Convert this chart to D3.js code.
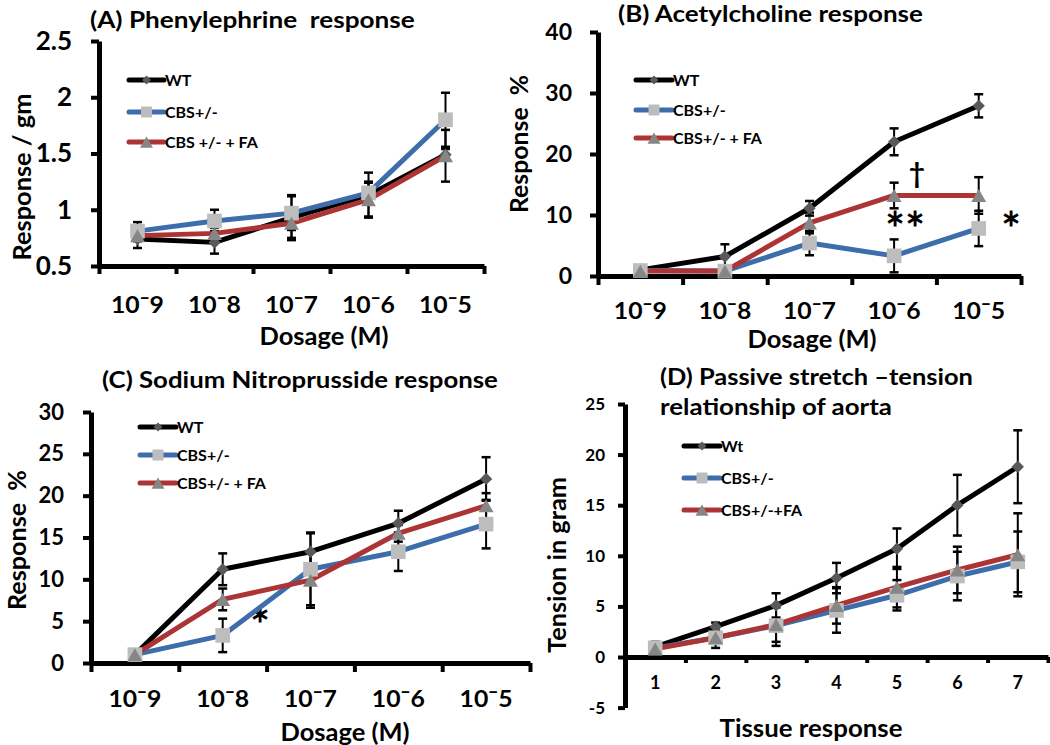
<!DOCTYPE html>
<html><head><meta charset="utf-8">
<script src="https://cdn.jsdelivr.net/npm/d3@7"></script>
<style>
body{margin:0;background:#fff}
svg{display:block}
text{font-family:Lato,"Open Sans",sans-serif;font-weight:700;fill:#000;white-space:pre}
</style>
</head><body>
<svg id="chart" width="1050" height="745"></svg>
<script>
// ---------------- DATA ----------------
const doseLabels = ["10ˉ9", "10ˉ8", "10ˉ7", "10ˉ6", "10ˉ5"];
const tissueLabels = ["1", "2", "3", "4", "5", "6", "7"];

const legendA = ["WT", "CBS+/-", "CBS +/- + FA"];
const legendB = ["WT", "CBS+/-", "CBS+/- + FA"];
const legendC = ["WT", "CBS+/-", "CBS+/- + FA"];
const legendD = ["Wt", "CBS+/-", "CBS+/-+FA"];

// (A) Phenylephrine response (Response / gm)
const phenylWT = [0.74, 0.71, 0.93, 1.13, 1.49];
const phenylWTErr = [0.08, 0.10, 0.20, 0.20, 0.05];
const phenylCBS = [0.81, 0.90, 0.97, 1.15, 1.80];
const phenylCBSErr = [0.08, 0.10, 0.15, 0.10, 0.24];
const phenylFA = [0.77, 0.79, 0.88, 1.09, 1.48];
const phenylFAErr = [0.05, 0.05, 0.13, 0.15, 0.23];
const phenylTicks = [0.5, 1, 1.5, 2, 2.5];

// (B) Acetylcholine response (Response %)
const acetylWT = [1.0, 3.2, 11.1, 22.0, 27.9];
const acetylWTErr = [0.3, 2.0, 1.2, 2.2, 1.9];
const acetylCBS = [0.9, 0.8, 5.4, 3.3, 7.8];
const acetylCBSErr = [0.3, 0.3, 2.0, 2.7, 2.9];
const acetylFA = [0.8, 0.8, 8.7, 13.2, 13.2];
const acetylFAErr = [0.3, 0.3, 1.7, 2.1, 3.0];
const acetylTicks = [0, 10, 20, 30, 40];

// (C) Sodium Nitroprusside response (Response %)
const nitroWT = [1.0, 11.2, 13.3, 16.7, 22.0];
const nitroWTErr = [0.3, 1.9, 2.3, 1.5, 2.6];
const nitroCBS = [1.0, 3.3, 11.2, 13.3, 16.6];
const nitroCBSErr = [0.3, 2.0, 4.3, 2.3, 2.9];
const nitroFA = [1.0, 7.6, 9.9, 15.5, 18.8];
const nitroFAErr = [0.3, 1.3, 3.3, 1.0, 1.5];
const nitroTicks = [0, 5, 10, 15, 20, 25, 30];

// (D) Passive stretch-tension (Tension in gram)
const tensionWT = [1.0, 3.0, 5.1, 7.8, 10.7, 15.0, 18.8];
const tensionWTErr = [0.5, 0.4, 1.2, 1.5, 2.0, 3.0, 3.6];
const tensionCBS = [0.9, 1.9, 3.1, 4.6, 6.1, 8.0, 9.4];
const tensionCBSErr = [0.3, 1.0, 2.0, 2.2, 1.5, 2.4, 3.0];
const tensionFA = [0.8, 1.9, 3.2, 5.1, 6.9, 8.6, 10.1];
const tensionFAErr = [0.3, 0.6, 1.7, 1.8, 2.0, 2.3, 4.1];
const tensionTicks = [-5, 0, 5, 10, 15, 20, 25];

// ---------------- STYLE ----------------
const styles = [
  {line: "#000000", fill: "#595959", kind: "diamond"},
  {line: "#3e6dab", fill: "#bdbdbd", kind: "square"},
  {line: "#ac3434", fill: "#868686", kind: "triangle"}
];

const svg = d3.select("#chart");

function markerPath(kind, big) {
  if (kind === "diamond") return d3.symbol(d3.symbolSquare, big ? 76 : 40)();
  if (kind === "square") return d3.symbol(d3.symbolSquare, big ? 215 : 121)();
  return d3.symbol(d3.symbolTriangle, big ? 97 : 73)();
}
function markerTransform(kind, x, y, big) {
  if (kind === "diamond") return `translate(${x},${y}) rotate(45)`;
  if (kind === "triangle") return `translate(${x},${y + (big ? 2.2 : 1.9)})`;
  return `translate(${x},${y})`;
}

// text with cap-height centred on cy
function capText(g, x, cy, str, fs, anchor) {
  return g.append("text").attr("x", x).attr("y", cy + 0.36 * fs)
    .attr("font-size", fs).attr("text-anchor", anchor || "start").text(str);
}
// text fitted to a target width: half by size, half by horizontal stretch
function fitText(g, x, cy, str, fsH, targetW, anchor, rot) {
  const t = g.append("text").attr("font-size", fsH).attr("text-anchor", anchor || "start").text(str);
  const w = t.node().getComputedTextLength() || targetW;
  const r = Math.sqrt(targetW / w);
  const fs = fsH * r;
  t.attr("font-size", fs)
   .attr("transform", `translate(${x},${cy}) ${rot ? "rotate(-90)" : ""} scale(${r},1) translate(0,${0.36 * fs})`);
  return t;
}

function panel(cfg) {
  const g = svg.append("g");
  const n = cfg.labels.length;
  const band = d3.scaleBand().domain(cfg.labels).range([cfg.x0, cfg.x1]).padding(0);
  const edge = d3.scaleLinear().domain([0, n]).range([cfg.x0, cfg.x1]);
  const y = d3.scaleLinear().domain(cfg.yDomain).range([cfg.yBottom, cfg.yTop]);
  const xc = i => band(cfg.labels[i]) + band.bandwidth() / 2;
  const axisY = y(cfg.xAxisAt);

  const addNotes = under => (cfg.notes || []).filter(a => !!a.under === under).forEach(a => {
    g.append("text").attr("x", xc(a.i) + a.dx * band.bandwidth()).attr("y", y(a.v))
      .attr("font-family", "DejaVu Sans").attr("font-weight", 400)
      .attr("font-size", a.fs).attr("text-anchor", "middle").attr("dy", a.dy).text(a.t);
  });

  // y axis
  const ya = g.append("g").attr("transform", `translate(${cfg.x0},0)`)
    .call(d3.axisLeft(y).tickValues(cfg.yTicks).tickSize(cfg.yTickLen).tickSizeOuter(0)
      .tickPadding(cfg.yPad).tickFormat(d => String(d)));
  ya.select(".domain").attr("stroke", "#000").attr("stroke-width", 5);
  ya.selectAll(".tick line").attr("stroke", "#000").attr("stroke-width", 4);
  ya.selectAll(".tick text").attr("font-size", cfg.yFs).attr("font-family", null).attr("fill", "#000");

  // x axis (ticks at category boundaries)
  const xa = g.append("g").attr("transform", `translate(0,${axisY})`)
    .call(d3.axisBottom(edge).tickValues(d3.range(n + 1)).tickSize(cfg.xTickLen).tickSizeOuter(0).tickFormat(""));
  xa.select(".domain").attr("stroke", "#000").attr("stroke-width", 5);
  xa.selectAll(".tick line").attr("stroke", "#000").attr("stroke-width", 4);

  // category labels
  cfg.labels.forEach((lab, i) => {
    if (cfg.xLabW) fitText(g, xc(i), cfg.xLabY, lab, cfg.xFs, cfg.xLabW, "middle");
    else capText(g, xc(i), cfg.xLabY, lab, cfg.xFs, "middle");
  });

  addNotes(true);

  // series
  const line = d3.line().x((d, i) => xc(i)).y(d => y(d));
  cfg.series.forEach((s, k) => {
    const st = styles[k];
    g.append("path").datum(s.vals).attr("d", line).attr("fill", "none")
      .attr("stroke", st.line).attr("stroke-width", 5).attr("stroke-linejoin", "round");
    const eb = g.append("g").attr("stroke", "#000").attr("stroke-width", 2);
    s.vals.forEach((v, i) => {
      const e = s.errs[i], x = xc(i);
      eb.append("line").attr("x1", x).attr("x2", x).attr("y1", y(v - e)).attr("y2", y(v + e));
      [v - e, v + e].forEach(t => eb.append("line").attr("x1", x - 4.5).attr("x2", x + 4.5)
        .attr("y1", y(t)).attr("y2", y(t)).attr("stroke-width", 2.5));
    });
  });
  cfg.series.forEach((s, k) => {
    const st = styles[k];
    s.vals.forEach((v, i) => {
      g.append("path").attr("d", markerPath(st.kind, true))
        .attr("transform", markerTransform(st.kind, xc(i), y(v), true))
        .attr("fill", st.fill);
    });
  });

  // legend
  cfg.legend.forEach((name, k) => {
    const st = styles[k];
    const ly = cfg.legY[k];
    g.append("line").attr("x1", cfg.legX0).attr("x2", cfg.legX1).attr("y1", ly).attr("y2", ly)
      .attr("stroke", st.line).attr("stroke-width", 5).attr("stroke-linecap", "round");
    g.append("path").attr("d", markerPath(st.kind, false))
      .attr("transform", markerTransform(st.kind, (cfg.legX0 + cfg.legX1) / 2, ly, false))
      .attr("fill", st.fill);
    capText(g, cfg.legX1 + 1, ly, name, cfg.legFs);
  });

  // titles
  cfg.title.forEach((t, i) => fitText(g, cfg.titleX, cfg.titleY[i], t, 21, cfg.titleW[i]));
  fitText(g, cfg.xTitleX, cfg.xTitleY, cfg.xTitle, 24, cfg.xTitleW, "middle");
  fitText(g, cfg.yTitleX, cfg.yTitleY, cfg.yTitle, 24, cfg.yTitleW, "middle", true);

  addNotes(false);
}

panel({
  labels: doseLabels, x0: 99, x1: 484, yDomain: [0.5, 2.5], yBottom: 266, yTop: 41, xAxisAt: 0.5,
  yTicks: phenylTicks, yTickLen: 8, yPad: 19, yFs: 26, xTickLen: 8, xLabY: 305, xFs: 21, xLabW: 53,
  series: [{vals: phenylWT, errs: phenylWTErr}, {vals: phenylCBS, errs: phenylCBSErr}, {vals: phenylFA, errs: phenylFAErr}],
  legend: legendA, legX0: 129, legX1: 164, legY: [80, 112, 142], legFs: 16,
  title: ["(A) Phenylephrine  response"], titleW: [325], titleX: 90, titleY: [20],
  xTitle: "Dosage (M)", xTitleW: 129, xTitleX: 324, xTitleY: 336,
  yTitle: "Response / gm", yTitleW: 167, yTitleX: 22, yTitleY: 177
});

panel({
  labels: doseLabels, x0: 598, x1: 1021, yDomain: [0, 40], yBottom: 276, yTop: 32, xAxisAt: 0,
  yTicks: acetylTicks, yTickLen: 8, yPad: 18, yFs: 23, xTickLen: 9, xLabY: 311, xFs: 21, xLabW: 53,
  series: [{vals: acetylWT, errs: acetylWTErr}, {vals: acetylCBS, errs: acetylCBSErr}, {vals: acetylFA, errs: acetylFAErr}],
  legend: legendB, legX0: 636, legX1: 672, legY: [80, 110, 138], legFs: 16,
  title: ["(B) Acetylcholine response"], titleW: [305], titleX: 618, titleY: [14],
  xTitle: "Dosage (M)", xTitleW: 129, xTitleX: 812, xTitleY: 339,
  yTitle: "Response  %", yTitleW: 138, yTitleX: 519, yTitleY: 144,
  notes: [
    {t: "†", i: 3, dx: 0.27, v: 16.9, fs: 28, dy: "0.35em"},
    {t: "∗∗", i: 3, dx: 0.13, v: 9.8, fs: 24, dy: "0.4em"},
    {t: "∗", i: 4, dx: 0.38, v: 9.8, fs: 24, dy: "0.4em"}
  ]
});

panel({
  labels: doseLabels, x0: 91, x1: 530, yDomain: [0, 30], yBottom: 663, yTop: 412, xAxisAt: 0,
  yTicks: nitroTicks, yTickLen: 8, yPad: 19, yFs: 22, xTickLen: 9, xLabY: 699, xFs: 21, xLabW: 53,
  series: [{vals: nitroWT, errs: nitroWTErr}, {vals: nitroCBS, errs: nitroCBSErr}, {vals: nitroFA, errs: nitroFAErr}],
  legend: legendC, legX0: 140, legX1: 176, legY: [427, 455, 483], legFs: 16,
  title: ["(C) Sodium Nitroprusside response"], titleW: [396], titleX: 102, titleY: [380],
  xTitle: "Dosage (M)", xTitleW: 129, xTitleX: 345, xTitleY: 732,
  yTitle: "Response  %", yTitleW: 140, yTitleX: 17, yTitleY: 540,
  notes: [{t: "∗", i: 1, dx: 0.43, v: 6.0, fs: 24, dy: "0.4em", under: true}]
});

panel({
  labels: tissueLabels, x0: 625, x1: 1048, yDomain: [-5, 25], yBottom: 707.6, yTop: 404, xAxisAt: 0,
  yTicks: tensionTicks, yTickLen: 7, yPad: 13, yFs: 17, xTickLen: 6, xLabY: 683, xFs: 18,
  series: [{vals: tensionWT, errs: tensionWTErr}, {vals: tensionCBS, errs: tensionCBSErr}, {vals: tensionFA, errs: tensionFAErr}],
  legend: legendD, legX0: 684, legX1: 720, legY: [446, 478, 510], legFs: 16,
  title: ["(D) Passive stretch \u2013tension", "relationship of aorta"], titleW: [313, 232], titleX: 660, titleY: [377, 407],
  xTitle: "Tissue response", xTitleW: 183, xTitleX: 811, xTitleY: 728,
  yTitle: "Tension in gram", yTitleW: 176, yTitleX: 557, yTitleY: 565
});
</script>
</body></html>
